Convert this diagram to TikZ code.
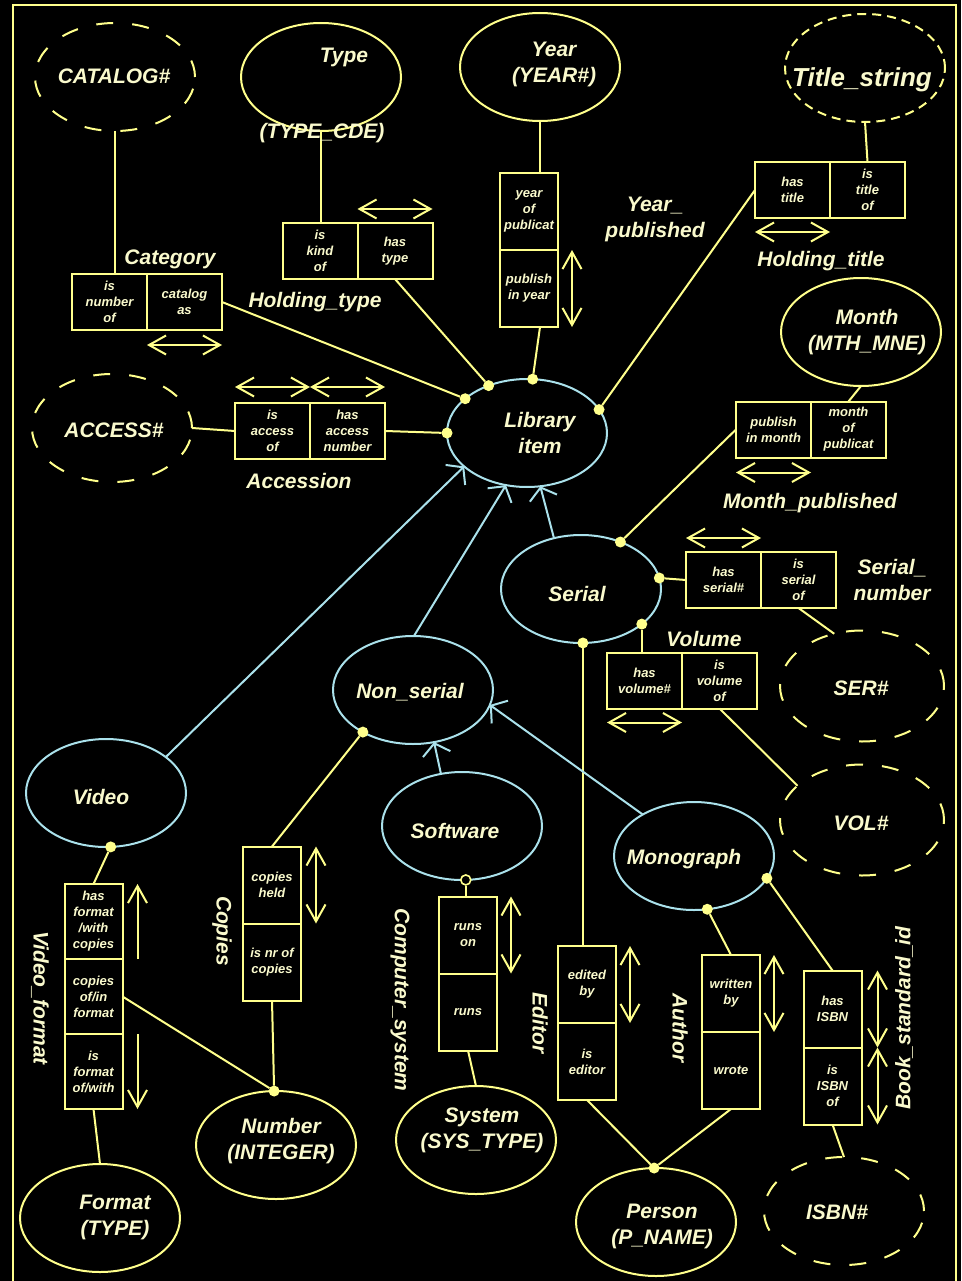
\documentclass[tikz,border=0pt]{standalone}
\usepackage{fontspec}
\setmainfont{Liberation Sans}
\usetikzlibrary{arrows.meta, positioning, shapes.geometric}
\definecolor{lineyel}{RGB}{255,255,140}
\definecolor{txtyel}{RGB}{250,250,205}
\definecolor{subcyan}{RGB}{170,225,235}

\begin{document}
\begin{tikzpicture}[x=1pt, y=-1pt,
  every node/.style={font=\bfseries\itshape, text=txtyel},
  valtype/.style={ellipse, draw=lineyel, line width=2pt, minimum width=160pt, minimum height=108pt, inner sep=0pt, outer sep=0pt},
  lexical/.style={valtype, dash pattern=on 17pt off 19pt},
  entity/.style={valtype, draw=subcyan},
  lbl/.style={font=\fontsize{21}{26}\selectfont\bfseries\itshape, align=center, inner sep=0pt},
  role/.style={draw=lineyel, line width=2pt, inner sep=0pt, outer sep=0pt, font=\fontsize{13}{16}\selectfont\bfseries\itshape, align=center},
  hrole/.style={role, minimum width=75pt, minimum height=56pt},
  vrole/.style={role, minimum width=58pt, minimum height=77pt},
  link/.style={draw=lineyel, line width=2pt},
  subtype/.style={draw=subcyan, line width=2pt, -{Straight Barb[length=11pt,width=28pt]}},
  uniq/.style={draw=lineyel, line width=2pt, {Straight Barb[length=17pt,width=19pt]}-{Straight Barb[length=17pt,width=19pt]}},
  uniqone/.style={draw=lineyel, line width=2pt, -{Straight Barb[length=17pt,width=19pt]}},
  dot/.style={circle, fill=lineyel, inner sep=0pt, outer sep=0pt, minimum size=11pt},
  ring/.style={circle, draw=lineyel, fill=black, line width=1.6pt, inner sep=0pt, minimum size=10pt}]
\fill[black] (0,0) rectangle (961,1281);
\useasboundingbox (0,0) rectangle (961,1281);
\draw[lineyel, line width=2.2pt] (13,1285) -- (13,5) -- (956,5) -- (956,1285);

% object types
\node[lexical] (catalog) at (115,77) {};
\node[valtype] (type) at (321,77) {};
\node[valtype] (year) at (540,67) {};
\node[lexical, dash pattern=on 9pt off 6pt] (title) at (865,68) {};
\node[valtype] (month) at (861,332) {};
\node[lexical] (access) at (112,428) {};
\node[entity] (lib) at (527,433) {};
\node[entity] (serial) at (581,589) {};
\node[entity] (nonser) at (413,690) {};
\node[entity] (video) at (106,793) {};
\node[entity] (soft) at (462,826) {};
\node[entity] (mono) at (694,856) {};
\node[lexical, minimum width=164pt, minimum height=111pt] (sernum) at (862,686) {};
\node[lexical, minimum width=164pt, minimum height=111pt] (volnum) at (862,820) {};
\node[valtype] (format) at (100,1218) {};
\node[valtype] (number) at (276,1145) {};
\node[valtype] (system) at (476,1140) {};
\node[valtype] (person) at (656,1222) {};
\node[lexical] (isbn) at (844,1211) {};

% fact types
\node[hrole] (catA) at (109.5,302) {is\\number\\of};
\node[hrole, right=0pt of catA] (catB) {catalog\\as};
\node[hrole] (htA) at (320,251) {is\\kind\\of};
\node[hrole, right=0pt of htA] (htB) {has\\type};
\node[vrole] (yrA) at (529,211.5) {year\\of\\publicat};
\node[vrole, below=0pt of yrA] (yrB) {publish\\in year};
\node[hrole] (ttlA) at (792.5,190) {has\\title};
\node[hrole, right=0pt of ttlA] (ttlB) {is\\title\\of};
\node[hrole] (accA) at (272.5,431) {is\\access\\of};
\node[hrole, right=0pt of accA] (accB) {has\\access\\number};
\node[hrole] (mthA) at (773.5,429.5) {publish\\in month};
\node[hrole, right=0pt of mthA] (mthB) {month\\of\\publicat};
\node[hrole] (snA) at (723.5,580) {has\\serial\#};
\node[hrole, right=0pt of snA] (snB) {is\\serial\\of};
\node[hrole] (volA) at (644.5,680.5) {has\\volume\#};
\node[hrole, right=0pt of volA] (volB) {is\\volume\\of};
\node[vrole, minimum height=75pt] (vfA) at (93.5,921.5) {has\\format\\/with\\copies};
\node[vrole, minimum height=75pt, below=0pt of vfA] (vfB) {copies\\of/in\\format};
\node[vrole, minimum height=75pt, below=0pt of vfB] (vfC) {is\\format\\of/with};
\node[vrole] (cpA) at (272,885) {copies\\held};
\node[vrole, below=0pt of cpA] (cpB) {is nr of\\copies};
\node[vrole] (csA) at (468,935) {runs\\on};
\node[vrole, below=0pt of csA] (csB) {runs};
\node[vrole] (edA) at (587,984.5) {edited\\by};
\node[vrole, below=0pt of edA] (edB) {is\\editor};
\node[vrole] (auA) at (731,993.5) {written\\by};
\node[vrole, below=0pt of auA] (auB) {wrote};
\node[vrole] (bsA) at (832.5,1009) {has\\ISBN};
\node[vrole, below=0pt of bsA] (bsB) {is\\ISBN\\of};

% role dots
\node[dot] (lib1) at (lib.151) {};
\node[dot] (lib2) at (lib.129) {};
\node[dot] (lib3) at (lib.84) {};
\node[dot] (lib4) at (lib.18) {};
\node[dot] (lib5) at (lib.180) {};
\node[dot] (srl1) at (serial.50) {};
\node[dot] (srl2) at (serial.8) {};
\node[dot] (srl3) at (serial.-30) {};
\node[dot] (srl4) at (serial.-88) {};
\node[dot] (ns1) at (nonser.-140) {};
\node[dot] (vid1) at (video.-85) {};
\node[dot] (mon1) at (mono.-76) {};
\node[dot] (mon2) at (mono.-17) {};
\node[dot] (num1) at (number.92) {};
\node[dot] (per1) at (person.92) {};
\node[ring] (sw1) at (soft.-86) {};

% role links
\draw[link] (catalog.south) -- (catalog.south |- catA.north);
\draw[link] (catB.east) -- (lib1);
\draw[link] (type.south) -- (type.south |- htA.north);
\draw[link] (htB.south) -- (lib2);
\draw[link] (year.south) -- (year.south |- yrA.north);
\draw[link] (yrB.south -| year.south) -- (lib3);
\draw[link] (title.south) -- (ttlB.north);
\draw[link] (ttlA.west) -- (lib4);
\draw[link] (access.east) -- (accA.west);
\draw[link] (accB.east) -- (lib5);
\draw[link] (month.south) -- (mthB.north);
\draw[link] (mthA.west) -- (srl1);
\draw[link] (srl2) -- (snA.west);
\draw[link] (snB.south) -- (sernum.118);
\draw[link] (srl3) -- (srl3 |- volA.north);
\draw[link] (volB.south) -- (volnum.152);
\draw[link] (vid1) -- (vfA.north);
\draw[link] (vfC.south) -- (format.north);
\draw[link] (vfB.east) -- (num1);
\draw[link] (ns1) -- (cpA.north);
\draw[link] (cpB.south) -- (num1);
\draw[link] (sw1) -- (sw1 |- csA.north);
\draw[link] (csB.south) -- (system.north);
\draw[link] (srl4) -- (srl4 |- edA.north);
\draw[link] (edB.south) -- (per1);
\draw[link] (mon1) -- (auA.north);
\draw[link] (auB.south) -- (per1);
\draw[link] (mon2) -- (bsA.north);
\draw[link] (bsB.south) -- (isbn.north);

% subtypes
\draw[subtype] (serial.118) -- (lib.-76);
\draw[subtype] (nonser.89) -- (lib.-112);
\draw[subtype] (video.31) -- (lib.208);
\draw[subtype] (soft.112) -- (nonser.-68);
\draw[subtype] (mono.141) -- (nonser.-11);

% uniqueness constraints
\draw[uniq] ([yshift=-15pt]catB.south west) -- ([yshift=-15pt]catB.south east);
\draw[uniq] ([yshift=14pt]htB.north west) -- ([yshift=14pt]htB.north east);
\draw[uniq] ([xshift=14pt]yrB.north east) -- ([xshift=14pt]yrB.south east);
\draw[uniq] ([yshift=-14pt]ttlA.south west) -- ([yshift=-14pt]ttlA.south east);
\draw[uniq] ([yshift=16pt]accA.north west) -- ([yshift=16pt]accA.north east);
\draw[uniq] ([yshift=16pt]accB.north west) -- ([yshift=16pt]accB.north east);
\draw[uniq] ([yshift=-15pt]mthA.south west) -- ([yshift=-15pt]mthA.south east);
\draw[uniq] ([yshift=14pt]snA.north west) -- ([yshift=14pt]snA.north east);
\draw[uniq] ([yshift=-14pt]volA.south west) -- ([yshift=-14pt]volA.south east);
\draw[uniqone] ([xshift=15pt]vfA.south east) -- ([xshift=15pt]vfA.north east);
\draw[uniqone] ([xshift=15pt]vfC.north east) -- ([xshift=15pt]vfC.south east);
\draw[uniq] ([xshift=15pt]cpA.north east) -- ([xshift=15pt]cpA.south east);
\draw[uniq] ([xshift=14pt]csA.north east) -- ([xshift=14pt]csA.south east);
\draw[uniq] ([xshift=14pt]edA.north east) -- ([xshift=14pt]edA.south east);
\draw[uniq] ([xshift=14pt]auA.north east) -- ([xshift=14pt]auA.south east);
\draw[uniq] ([xshift=16pt]bsA.north east) -- ([xshift=16pt]bsA.south east);
\draw[uniq] ([xshift=16pt]bsB.north east) -- ([xshift=16pt]bsB.south east);

% names in the ellipses
\node[lbl] (catalogT) at (114,76) {CATALOG\#};
\node[lbl] (typeT) at (344,57) {Type};
\node[lbl] (typeT2) at (322,133) {(TYPE\_CDE)};
\node[lbl] (yearT) at (554,64) {Year\\(YEAR\#)};
\node[lbl, font=\fontsize{26}{30}\selectfont\bfseries\itshape] (titleT) at (862,80) {Title\_string};
\node[lbl] (monthT) at (867,332) {Month\\(MTH\_MNE)};
\node[lbl] (accessT) at (114,430) {ACCESS\#};
\node[lbl] (libT) at (540,433) {Library\\item};
\node[lbl] (serialT) at (577,594) {Serial};
\node[lbl] (nonserT) at (410,692) {Non\_serial};
\node[lbl] (videoT) at (101,797) {Video};
\node[lbl] (softT) at (455,831) {Software};
\node[lbl] (monoT) at (684,859) {Monograph};
\node[lbl] (sernumT) at (861,688) {SER\#};
\node[lbl] (volnumT) at (861,823) {VOL\#};
\node[lbl] (formatT) at (115,1217) {Format\\(TYPE)};
\node[lbl] (numberT) at (281,1141) {Number\\(INTEGER)};
\node[lbl] (systemT) at (482,1130) {System\\(SYS\_TYPE)};
\node[lbl] (personT) at (662,1226) {Person\\(P\_NAME)};
\node[lbl] (isbnT) at (837,1212) {ISBN\#};

% fact type names
\node[lbl] (catL) at (170,259) {Category};
\node[lbl] (htL) at (315,302) {Holding\_type};
\node[lbl] (yrL) at (655,219) {Year\_\\published};
\node[lbl] (ttlL) at (821,261) {Holding\_title};
\node[lbl] (accL) at (299,481) {Accession};
\node[lbl] (mthL) at (810,503) {Month\_published};
\node[lbl] (snL) at (892,580) {Serial\_\\number};
\node[lbl] (volL) at (704,639) {Volume};
\node[lbl, rotate=-90] (vfL) at (40,998) {Video\_format};
\node[lbl, rotate=-90] (cpL) at (222,931) {Copies};
\node[lbl, rotate=-90] (csL) at (400,1000) {Computer\_system};
\node[lbl, rotate=-90] (edL) at (540,1023) {Editor};
\node[lbl, rotate=-90] (auL) at (680,1028) {Author};
\node[lbl, rotate=90] (bsL) at (904,1018) {Book\_standard\_id};
\end{tikzpicture}
\end{document}
